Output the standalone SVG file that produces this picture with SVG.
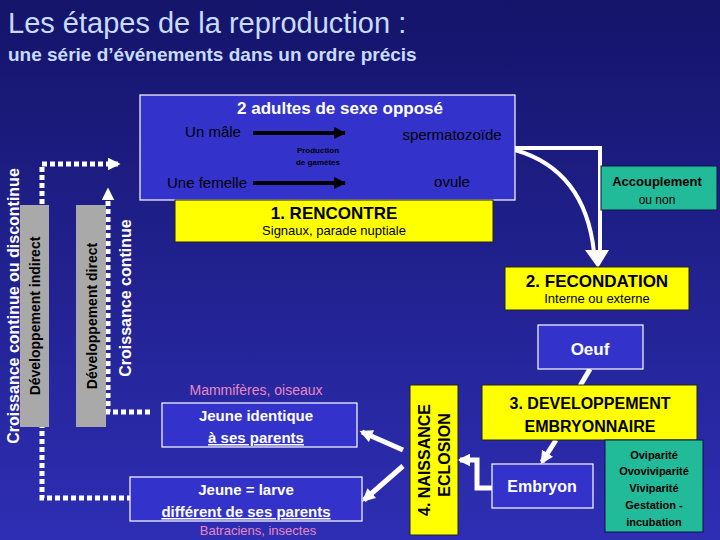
<svg xmlns="http://www.w3.org/2000/svg" width="720" height="540" viewBox="0 0 720 540">
<defs>
<linearGradient id="bg" x1="0" y1="0" x2="0" y2="1"><stop offset="0" stop-color="#14146a"/><stop offset="1" stop-color="#2e2eb4"/></linearGradient>
<marker id="ah" viewBox="0 0 10 10" refX="9" refY="5" markerWidth="3" markerHeight="3" orient="auto"><path d="M0,0L10,5L0,10z" fill="#000"/></marker>
<marker id="wh" viewBox="0 0 10 10" refX="8" refY="5" markerWidth="2.6" markerHeight="2.6" orient="auto"><path d="M0,0L10,5L0,10z" fill="#fff"/></marker>
</defs>
<style>
text{font-family:"Liberation Sans",Arial,sans-serif}
.b{font-weight:bold}
.blue{fill:#3333cc;stroke:#fff;stroke-width:1.2}
.yel{fill:#ffff00;stroke:#222;stroke-width:1}
.grn{fill:#22bb99;stroke:#114;stroke-width:1}
.gray{fill:#a9a9a9}
.dot{fill:none;stroke:#fff;stroke-width:5;stroke-dasharray:5 3}
.wa{fill:none;stroke:#fff;stroke-width:5}
.pink{fill:#e888c0;font-size:14px}
.ka{stroke:#000;stroke-width:4}
</style>
<rect width="720" height="540" fill="url(#bg)"/>
<text x="8" y="33" font-size="29" fill="#c8dcff">Les étapes de la reproduction :</text>
<text x="8" y="61" font-size="19" class="b" fill="#c8dcff">une série d’événements dans un ordre précis</text>

<g id="connectors">
<path class="dot" d="M132,498H42V164H118" marker-end="url(#wh)"/>
<path class="dot" d="M150,412H108V190" marker-end="url(#wh)"/>
<path d="M515,148H600V252M515,150Q585,170 594,252" fill="none" stroke="#fff" stroke-width="4"/>
<path d="M585,250H609L598,268z" fill="#fff"/>
<path class="wa" d="M590,369L580,386"/>
<path class="wa" d="M556,440L542,462" marker-end="url(#wh)"/>
<path class="wa" d="M492,488H477V460H460" marker-end="url(#wh)"/>
<path class="wa" d="M403,450L362,432" marker-end="url(#wh)"/>
<path class="wa" d="M403,466L364,500" marker-end="url(#wh)"/>
</g>

<g id="adultes">
<rect class="blue" x="140" y="95" width="375" height="105"/>
<text x="340" y="114" font-size="17" class="b" fill="#fff" text-anchor="middle">2 adultes de sexe opposé</text>
<text x="213" y="137" font-size="15" fill="#000" text-anchor="middle">Un mâle</text>
<text x="452" y="140" font-size="15" fill="#000" text-anchor="middle">spermatozoïde</text>
<text x="207" y="188" font-size="15" fill="#000" text-anchor="middle">Une femelle</text>
<text x="452" y="187" font-size="15" fill="#000" text-anchor="middle">ovule</text>
<text x="318" y="153" font-size="8" class="b" fill="#000" text-anchor="middle">Production</text>
<text x="318" y="165" font-size="8" class="b" fill="#000" text-anchor="middle">de gamètes</text>
<path class="ka" d="M253,133H345" marker-end="url(#ah)"/>
<path class="ka" d="M253,183H345" marker-end="url(#ah)"/>
</g>
<g id="rencontre">
<rect class="yel" x="175" y="200" width="318" height="42"/>
<text x="334" y="219" font-size="17" class="b" text-anchor="middle">1. RENCONTRE</text>
<text x="334" y="235" font-size="13" text-anchor="middle">Signaux, parade nuptiale</text>
</g>
<g id="accouplement">
<rect class="grn" x="601" y="166" width="116" height="44"/>
<text x="657" y="186" font-size="13" class="b" text-anchor="middle">Accouplement</text>
<text x="657" y="204" font-size="12" text-anchor="middle">ou non</text>
</g>
<g id="fecondation">
<rect class="yel" x="505" y="267" width="184" height="43"/>
<text x="597" y="287" font-size="17" class="b" text-anchor="middle">2. FECONDATION</text>
<text x="597" y="303" font-size="13" text-anchor="middle">Interne ou externe</text>
</g>
<g id="oeuf">
<rect class="blue" x="538" y="325" width="105" height="44"/>
<text x="590" y="355" font-size="17" class="b" fill="#fff" text-anchor="middle">Oeuf</text>
</g>
<g id="developpement">
<rect class="yel" x="482" y="385" width="215" height="55"/>
<text x="590" y="409" font-size="16" class="b" text-anchor="middle">3. DEVELOPPEMENT</text>
<text x="590" y="432" font-size="16" class="b" text-anchor="middle">EMBRYONNAIRE</text>
</g>
<g id="oviparite">
<rect class="grn" x="605" y="440" width="98" height="92"/>
<text x="654" y="459" font-size="11" class="b" text-anchor="middle">Oviparité</text>
<text x="654" y="475" font-size="11" class="b" text-anchor="middle">Ovoviviparité</text>
<text x="654" y="492" font-size="11" class="b" text-anchor="middle">Viviparité</text>
<text x="654" y="509" font-size="11" class="b" text-anchor="middle">Gestation -</text>
<text x="654" y="526" font-size="11" class="b" text-anchor="middle">incubation</text>
</g>
<g id="embryon">
<rect class="blue" x="492" y="464" width="101" height="44"/>
<text x="542" y="492" font-size="16" class="b" fill="#fff" text-anchor="middle">Embryon</text>
</g>
<g id="naissance">
<rect class="yel" x="410" y="385" width="48" height="150"/>
<text transform="translate(430,460) rotate(-90)" font-size="16" class="b" text-anchor="middle">4. NAISSANCE</text>
<text transform="translate(450,455) rotate(-90)" font-size="16" class="b" text-anchor="middle">ECLOSION</text>
</g>
<g id="identique">
<text x="256" y="395" class="pink" text-anchor="middle">Mammifères, oiseaux</text>
<rect class="blue" x="162" y="403" width="195" height="44"/>
<text x="256" y="421" font-size="15" class="b" fill="#fff" text-anchor="middle">Jeune identique</text>
<text x="256" y="443" font-size="15" class="b" fill="#fff" text-anchor="middle" text-decoration="underline">à ses parents</text>
</g>
<g id="larve">
<rect class="blue" x="130" y="477" width="232" height="44"/>
<text x="246" y="495" font-size="15" class="b" fill="#fff" text-anchor="middle">Jeune = larve</text>
<text x="246" y="517" font-size="15" class="b" fill="#fff" text-anchor="middle" text-decoration="underline">différent de ses parents</text>
<text x="258" y="535" font-size="13" class="pink" style="font-size:13px" text-anchor="middle">Batraciens, insectes</text>
</g>
<g id="dev-indirect">
<rect class="gray" x="20" y="205" width="29" height="222"/>
<text transform="translate(40,316) rotate(-90)" font-size="14" class="b" text-anchor="middle">Développement indirect</text>
</g>
<g id="dev-direct">
<rect class="gray" x="76" y="205" width="30" height="222"/>
<text transform="translate(97,316) rotate(-90)" font-size="14" class="b" text-anchor="middle">Développement direct</text>
</g>
<text transform="translate(19,306) rotate(-90)" font-size="16" class="b" fill="#fff" text-anchor="middle">Croissance continue ou discontinue</text>
<text transform="translate(131,298) rotate(-90)" font-size="16" class="b" fill="#fff" text-anchor="middle">Croissance continue</text>
</svg>
